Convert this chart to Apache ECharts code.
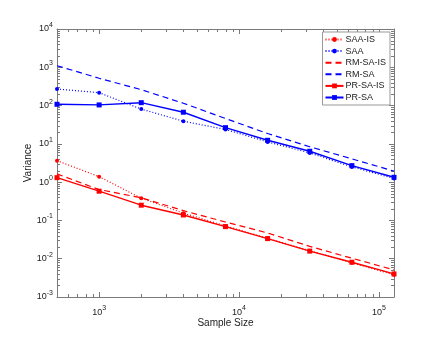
<!DOCTYPE html>
<html>
<head>
<meta charset="utf-8">
<script src="https://cdn.jsdelivr.net/npm/echarts@6/dist/echarts.min.js"></script>
<style>
  html, body { margin: 0; padding: 0; background: #fff; }
  #main { width: 436px; height: 337px; }
</style>
</head>
<body>
<div id="main"></div>
<script>
// sample sizes on the x axis
var sampleSizes = [500, 1000, 2000, 4000, 8000, 16000, 32000, 64000, 128000];

// variance of each method
var saaIs   = [3.64, 1.39, 0.38, 0.155, 0.072, 0.034, 0.0162, 0.0078, 0.0038];
var saa     = [271, 217, 81, 39, 23.8, 11.2, 5.8, 2.5, 1.25];
var rmSaIs  = [1.64, 0.64, 0.39, 0.18, 0.091, 0.047, 0.021, 0.0103, 0.0051];
var rmSa    = [1100, 516, 260, 115, 46, 18.6, 8.4, 4.06, 1.94];
var prSaIs  = [1.31, 0.58, 0.25, 0.139, 0.069, 0.0335, 0.0158, 0.0081, 0.004];
var prSa    = [108, 104, 119, 67, 26.5, 12.4, 6.4, 2.7, 1.34];

var seriesNames = ['SAA-IS', 'SAA', 'RM-SA-IS', 'RM-SA', 'PR-SA-IS', 'PR-SA'];

var RED = '#ff0000', BLUE = '#0000ff';
var FONT = 'Liberation Sans, Arial, sans-serif';
var DOTTED = [1, 2], DASHED = [6, 4];

function pairs(vals) {
  return sampleSizes.map(function (n, i) { return [n, vals[i]]; });
}

function powLabel(v) {
  var e = Math.round(Math.log(v) / Math.LN10);
  if (Math.abs(v - Math.pow(10, e)) / v > 1e-6) return '';
  return '10{sup|' + e + '}';
}

var richSup = {
  sup: { fontSize: 7, verticalAlign: 'bottom', padding: [0, 0, 8, 0], color: '#222', fontFamily: FONT }
};

function mkSeries(name, vals, color, kind) {
  var s = {
    name: name,
    type: 'line',
    data: pairs(vals),
    color: color,
    itemStyle: { color: color },
    animation: false,
    z: 3
  };
  if (kind === 'dotted') {
    s.symbol = 'circle';
    s.symbolSize = 4;
    s.lineStyle = { color: color, width: 1.2, type: DOTTED };
  } else if (kind === 'dashed') {
    s.symbol = 'none';
    s.showSymbol = false;
    s.lineStyle = { color: color, width: 1.2, type: DASHED };
  } else {
    s.symbol = 'rect';
    s.symbolSize = 5;
    s.lineStyle = { color: color, width: 1.4, type: 'solid' };
  }
  return s;
}

var legendData = [
  { name: 'SAA-IS', lineStyle: { type: DOTTED } },
  { name: 'SAA', lineStyle: { type: DOTTED } },
  { name: 'RM-SA-IS', itemStyle: { opacity: 0 }, lineStyle: { type: DASHED } },
  { name: 'RM-SA', itemStyle: { opacity: 0 }, lineStyle: { type: DASHED } },
  { name: 'PR-SA-IS' },
  { name: 'PR-SA' }
];

var chart = echarts.init(document.getElementById('main'), null, { renderer: 'canvas' });

var axisGray = '#7a7a7a';
var gridPos = { left: 57, right: 42, top: 29, bottom: 40 };

var option = {
  backgroundColor: '#fff',
  animation: false,
  grid: gridPos,
  legend: {
    orient: 'vertical',
    right: 46,
    top: 32,
    width: 66,
    backgroundColor: '#fff',
    borderColor: '#999',
    borderWidth: 1,
    borderRadius: 0,
    padding: [3, 4, 3, 2],
    itemWidth: 18,
    itemHeight: 6,
    itemGap: 2.6,
    textStyle: { fontSize: 9, color: '#222', fontFamily: FONT, padding: [0, 0, 0, -3] },
    data: legendData
  },
  xAxis: [{
    type: 'log',
    logBase: 10,
    min: 500,
    max: 128000,
    name: 'Sample Size',
    nameLocation: 'middle',
    nameGap: 21,
    nameMoveOverlap: false,
    nameTextStyle: { fontSize: 10, color: '#222', fontFamily: FONT },
    axisLine: { show: true, lineStyle: { color: axisGray } },
    axisTick: { show: true, inside: true, length: 5, lineStyle: { color: axisGray } },
    axisLabel: { formatter: powLabel, showMinLabel: false, showMaxLabel: false, fontSize: 9, color: '#222', fontFamily: FONT, margin: 8, rich: richSup },
    splitLine: { show: false }
  }, {
    type: 'log',
    logBase: 10,
    min: 500,
    max: 128000,
    position: 'top',
    axisLine: { show: true, lineStyle: { color: axisGray } },
    axisTick: { show: true, inside: true, length: 5, lineStyle: { color: axisGray } },
    axisLabel: { show: false },
    splitLine: { show: false }
  }],
  yAxis: [{
    type: 'log',
    logBase: 10,
    min: 0.001,
    max: 10000,
    interval: 1,
    name: 'Variance',
    nameLocation: 'middle',
    nameGap: 24,
    nameMoveOverlap: false,
    nameTextStyle: { fontSize: 10, color: '#222', fontFamily: FONT },
    axisLine: { show: true, lineStyle: { color: axisGray } },
    axisTick: { show: true, inside: true, length: 5, lineStyle: { color: axisGray } },
    axisLabel: { formatter: powLabel, fontSize: 9, color: '#222', fontFamily: FONT, margin: 4, rich: richSup },
    splitLine: { show: false }
  }, {
    type: 'log',
    logBase: 10,
    min: 0.001,
    max: 10000,
    interval: 1,
    position: 'right',
    axisLine: { show: true, lineStyle: { color: axisGray } },
    axisTick: { show: true, inside: true, length: 5, lineStyle: { color: axisGray } },
    axisLabel: { show: false },
    splitLine: { show: false }
  }],
  series: [
    mkSeries('SAA-IS', saaIs, RED, 'dotted'),
    mkSeries('SAA', saa, BLUE, 'dotted'),
    mkSeries('RM-SA-IS', rmSaIs, RED, 'dashed'),
    mkSeries('RM-SA', rmSa, BLUE, 'dashed'),
    mkSeries('PR-SA-IS', prSaIs, RED, 'solid'),
    mkSeries('PR-SA', prSa, BLUE, 'solid')
  ]
};

chart.setOption(option);

// minor ticks at 2..9 of every decade, placed through the axis scales
function minorTicks() {
  var out = [];
  var yTop = gridPos.top, yBot = 337 - gridPos.bottom;
  var xLeft = gridPos.left, xRight = 436 - gridPos.right;
  function seg(x1, y1, x2, y2) {
    out.push({ type: 'line', silent: true, shape: { x1: x1, y1: y1, x2: x2, y2: y2 }, style: { stroke: axisGray, lineWidth: 1 } });
  }
  for (var d = 2; d <= 5; d++) {
    for (var k = 2; k <= 9; k++) {
      var xv = k * Math.pow(10, d);
      if (xv <= 500 || xv >= 128000) continue;
      var px = Math.round(chart.convertToPixel({ xAxisIndex: 0 }, xv)) + 0.5;
      seg(px, yBot, px, yBot - 3);
      seg(px, yTop, px, yTop + 3);
    }
  }
  for (var e = -3; e < 4; e++) {
    for (var j = 2; j <= 9; j++) {
      var yv = j * Math.pow(10, e);
      var py = Math.round(chart.convertToPixel({ yAxisIndex: 0 }, yv)) + 0.5;
      seg(xLeft, py, xLeft + 3, py);
      seg(xRight, py, xRight - 3, py);
    }
  }
  return out;
}
chart.setOption({ graphic: minorTicks() });
</script>
</body>
</html>
